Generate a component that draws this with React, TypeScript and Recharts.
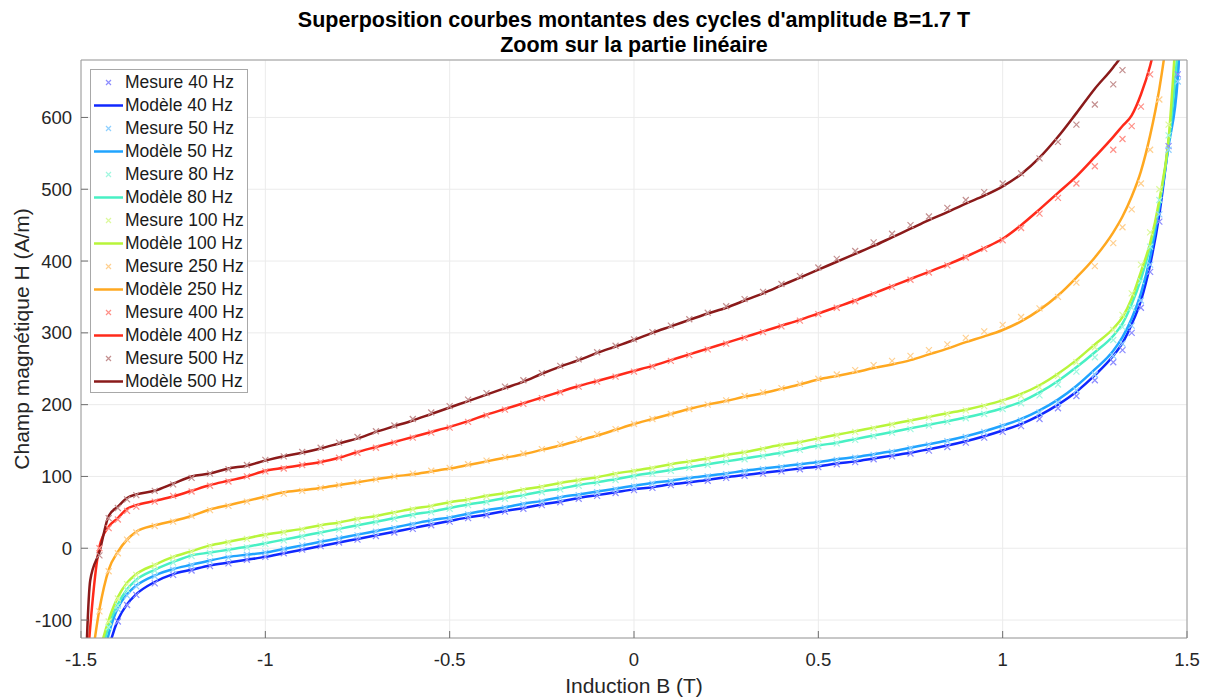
import React from 'react'
import { ComposedChart, Line, XAxis, YAxis, CartesianGrid } from 'recharts'

const FONT = '"Liberation Sans", Arial, Helvetica, sans-serif'

// Induction B (T) — shared abscissa of every curve
const B_VALUES = [
  -1.5, -1.475, -1.45, -1.425, -1.4, -1.375, -1.35,
  -1.3, -1.25, -1.2, -1.15, -1.1, -1.05, -1, -0.95, -0.9, -0.85, -0.8, -0.75,
  -0.7, -0.65, -0.6, -0.55, -0.5, -0.45, -0.4, -0.35, -0.3, -0.25, -0.2,
  -0.15, -0.1, -0.05, 0, 0.05, 0.1, 0.15, 0.2, 0.25, 0.3,
  0.35, 0.4, 0.45, 0.5, 0.55, 0.6, 0.65, 0.7, 0.75, 0.8,
  0.85, 0.9, 0.95, 1, 1.05, 1.1, 1.15, 1.2, 1.25, 1.3,
  1.325, 1.35, 1.375, 1.4, 1.425, 1.45, 1.475, 1.5,
]

// Champ H (A/m) — modèles
const MODELE_40 = [
  -320, -260, -200, -140, -100, -78, -64,
  -47, -36, -30, -24, -20, -16, -12, -7, -2, 3, 8, 13,
  18, 23, 28, 33, 38, 43, 47, 52, 56, 61, 65,
  70, 74, 78, 82, 85, 89, 92, 95, 99, 102,
  105, 108, 111, 114, 118, 121, 125, 129, 133, 138,
  143, 149, 156, 164, 173, 185, 200, 218, 241, 268,
  286, 312, 345, 395, 465, 565, 665, 900,
]
const MODELE_50 = [
  -300, -240, -180, -120, -83, -64, -52,
  -38, -29, -23, -17, -12, -9, -6, -1, 4, 9, 14, 19,
  24, 29, 34, 39, 43, 48, 53, 57, 62, 66, 71,
  75, 79, 83, 87, 91, 94, 98, 101, 104, 108,
  111, 114, 117, 120, 124, 127, 131, 135, 140, 145,
  150, 156, 163, 171, 180, 192, 207, 226, 249, 275,
  294, 320, 355, 405, 475, 560, 655, 950,
]
const MODELE_80 = [
  -280, -220, -160, -108, -78, -57, -44,
  -30, -19, -10, -6, -2, 2, 7, 12, 17, 22, 27, 32,
  37, 42, 47, 51, 56, 61, 65, 70, 74, 79, 83,
  88, 92, 96, 101, 105, 109, 113, 117, 121, 125,
  129, 133, 138, 143, 147, 152, 157, 162, 167, 172,
  177, 182, 188, 195, 204, 217, 233, 252, 273, 296,
  313, 340, 375, 420, 480, 565, 700, 1000,
]
const MODELE_100 = [
  -260, -200, -145, -100, -68, -48, -36,
  -23, -12, -4, 4, 9, 14, 19, 23, 27, 32, 36, 41,
  45, 50, 55, 59, 64, 68, 73, 77, 82, 86, 91,
  95, 99, 104, 108, 112, 117, 121, 125, 130, 134,
  139, 144, 148, 153, 158, 163, 168, 173, 178, 183,
  188, 193, 199, 206, 215, 227, 243, 262, 284, 306,
  322, 348, 385, 425, 485, 570, 760, 1000,
]
const MODELE_250 = [
  -250, -170, -85, -30, -5, 12, 23,
  32, 38, 45, 54, 60, 66, 72, 78, 81, 84, 88, 92,
  96, 100, 103, 107, 111, 116, 121, 126, 131, 137, 143,
  150, 157, 165, 173, 180, 187, 194, 200, 205, 211,
  216, 222, 228, 235, 240, 245, 251, 256, 262, 270,
  278, 287, 295, 304, 316, 332, 352, 377, 405, 440,
  462, 490, 525, 575, 640, 730, 850, 1000,
]
const MODELE_400 = [
  -300, -110, 2, 30, 42, 55, 60,
  66, 72, 80, 88, 94, 100, 108, 112, 116, 120, 126, 134,
  141, 148, 155, 162, 169, 177, 186, 194, 202, 210, 218,
  226, 233, 240, 247, 254, 262, 270, 278, 286, 294,
  302, 310, 318, 327, 336, 345, 355, 365, 375, 385,
  395, 406, 418, 431, 450, 472, 495, 518, 545, 573,
  588, 603, 632, 672, 730, 800, 900, 1000,
]
const MODELE_500 = [
  -400, -45, -5, 45, 58, 70, 75,
  80, 90, 100, 104, 111, 115, 122, 128, 133, 139, 146, 153,
  162, 170, 178, 187, 196, 205, 214, 223, 232, 243, 253,
  262, 272, 281, 290, 300, 309, 318, 327, 335, 345,
  355, 366, 377, 388, 399, 410, 421, 433, 445, 457,
  468, 480, 491, 504, 521, 544, 573, 606, 640, 670,
  688, 720, 760, 800, 850, 900, 950, 1000,
]

// Champ H (A/m) — mesures (null = hors du cadre)
const MESURE_40 = [
  null, null, null, null, -102, -79, -65,
  -49, -37, -31, -25, -21, -16, -12, -7, -2, 3, 8, 12,
  17, 22, 27, 32, 37, 42, 46, 51, 55, 60, 64,
  69, 73, 77, 81, 84, 88, 91, 94, 98, 101,
  104, 107, 110, 113, 117, 120, 124, 128, 132, 136,
  141, 147, 154, 162, 170, 180, 195, 212, 234, 259,
  276, 300, 335, 385, 455, 560, 660, null,
]
const MESURE_50 = [
  null, null, null, null, -85, -66, -53,
  -39, -30, -24, -18, -13, -9, -6, -1, 4, 9, 14, 18,
  23, 28, 33, 38, 42, 47, 52, 56, 61, 65, 70,
  74, 78, 82, 86, 90, 93, 97, 100, 103, 107,
  110, 113, 116, 119, 123, 126, 130, 134, 139, 144,
  149, 155, 162, 170, 178, 189, 203, 220, 242, 268,
  285, 310, 345, 395, 465, 555, 650, null,
]
const MESURE_80 = [
  null, null, null, -110, -80, -58, -45,
  -31, -20, -11, -7, -3, 1, 6, 11, 16, 21, 26, 31,
  36, 41, 46, 50, 55, 60, 64, 69, 73, 78, 82,
  87, 91, 95, 100, 104, 108, 112, 116, 120, 124,
  128, 132, 137, 142, 146, 151, 156, 161, 166, 171,
  176, 181, 187, 194, 202, 213, 228, 246, 266, 290,
  308, 335, 372, 420, 485, 575, null, null,
]
const MESURE_100 = [
  null, null, null, -102, -70, -50, -37,
  -24, -13, -5, 3, 8, 13, 18, 22, 26, 31, 35, 40,
  44, 49, 54, 58, 63, 67, 72, 76, 81, 85, 90,
  94, 98, 103, 107, 111, 116, 120, 124, 129, 133,
  138, 143, 147, 152, 157, 162, 167, 172, 177, 182,
  187, 192, 198, 204, 212, 224, 240, 259, 280, 304,
  325, 355, 395, 440, 500, 590, null, null,
]
const MESURE_250 = [
  null, null, -88, -32, -7, 12, 22,
  31, 37, 45, 53, 59, 65, 71, 76, 80, 84, 88, 92,
  96, 100, 104, 108, 112, 117, 122, 127, 132, 138, 145,
  152, 159, 166, 173, 180, 187, 194, 200, 206, 212,
  217, 223, 229, 236, 242, 248, 255, 261, 268, 276,
  284, 293, 302, 311, 322, 334, 350, 370, 393, 425,
  447, 472, 508, 555, 625, null, null, null,
]
const MESURE_400 = [
  null, null, 0, 28, 40, 52, 58,
  65, 73, 79, 87, 93, 100, 107, 111, 116, 120, 126, 133,
  140, 147, 154, 161, 168, 176, 185, 193, 201, 209, 217,
  225, 232, 239, 246, 253, 261, 269, 277, 285, 293,
  301, 309, 317, 326, 335, 344, 354, 364, 374, 384,
  394, 405, 417, 429, 446, 466, 488, 508, 532, 555,
  570, 588, 615, 660, null, null, null, null,
]
const MESURE_500 = [
  null, null, -10, 42, 56, 68, 74,
  80, 89, 98, 104, 110, 116, 123, 128, 134, 140, 147, 155,
  163, 171, 180, 189, 198, 207, 216, 225, 234, 244, 254,
  263, 273, 282, 291, 301, 310, 319, 328, 337, 347,
  357, 368, 379, 391, 403, 414, 426, 438, 450, 462,
  474, 485, 496, 508, 522, 543, 566, 590, 618, 646,
  666, null, null, null, null, null, null, null,
]

const X_TICKS = [-1.5, -1, -0.5, 0, 0.5, 1, 1.5]
const Y_TICKS = [-100, 0, 100, 200, 300, 400, 500, 600]

const SERIES = [
  { key: '40', label: '40 Hz', color: '#1028ff', mark: '#8c8cff', modele: MODELE_40, mesure: MESURE_40 },
  { key: '50', label: '50 Hz', color: '#20a4ff', mark: '#8fd0ff', modele: MODELE_50, mesure: MESURE_50 },
  { key: '80', label: '80 Hz', color: '#48f0c4', mark: '#a2f7e0', modele: MODELE_80, mesure: MESURE_80 },
  { key: '100', label: '100 Hz', color: '#b8f53a', mark: '#dcf99c', modele: MODELE_100, mesure: MESURE_100 },
  { key: '250', label: '250 Hz', color: '#ffa820', mark: '#ffd090', modele: MODELE_250, mesure: MESURE_250 },
  { key: '400', label: '400 Hz', color: '#ff2a1a', mark: '#ff9088', modele: MODELE_400, mesure: MESURE_400 },
  { key: '500', label: '500 Hz', color: '#8a1a1a', mark: '#c49090', modele: MODELE_500, mesure: MESURE_500 },
]

const rows = B_VALUES.map((b, i) => {
  const row: Record<string, number | null> = { b }
  SERIES.forEach((s) => {
    row['m' + s.key] = s.modele[i]
    row['s' + s.key] = s.mesure[i]
  })
  return row
})

function crossDot(props: any, color: string) {
  const { cx, cy, value, index } = props
  if (value == null || cx == null || cy == null || isNaN(cy)) return <g key={'e' + index} />
  const s = 3
  return (
    <path
      key={'x' + index}
      d={`M${cx - s},${cy - s}L${cx + s},${cy + s}M${cx - s},${cy + s}L${cx + s},${cy - s}`}
      stroke={color}
      strokeWidth={1.2}
      fill="none"
    />
  )
}

const tickStyle = { fontSize: 18.5, fill: '#262626', fontFamily: FONT }

function LegendBox() {
  const entries: { text: string; color: string; isLine: boolean }[] = []
  SERIES.forEach((s) => {
    entries.push({ text: 'Mesure ' + s.label, color: s.mark, isLine: false })
    entries.push({ text: 'Modèle ' + s.label, color: s.color, isLine: true })
  })
  return (
    <div
      style={{
        position: 'absolute', left: 90, top: 69, width: 158, height: 324,
        border: '1px solid #a8a8a8', background: '#fff', boxSizing: 'border-box',
        paddingTop: 1,
      }}
    >
      {entries.map((e) => (
        <div key={e.text} style={{ height: 23, display: 'flex', alignItems: 'center' }}>
          <svg width={34} height={23} style={{ flex: 'none' }}>
            {e.isLine ? (
              <line x1={3} x2={32} y1={11.5} y2={11.5} stroke={e.color} strokeWidth={2.5} />
            ) : (
              <path d="M15,9L20,14M15,14L20,9" stroke={e.color} strokeWidth={1.2} fill="none" />
            )}
          </svg>
          <span style={{ fontSize: 17.5, color: '#1a1a1a', fontFamily: FONT, whiteSpace: 'nowrap' }}>{e.text}</span>
        </div>
      ))}
    </div>
  )
}

export default function App() {
  return (
    <div style={{ position: 'absolute', left: 0, top: 0, width: 1207, height: 700, background: '#fff', fontFamily: FONT }}>
      <ComposedChart width={1207} height={700} data={rows} margin={{ top: 59, right: 19, bottom: 32, left: 21 }}>
        <CartesianGrid stroke="#ebebeb" strokeDasharray="" />
        <XAxis
          type="number" dataKey="b" domain={[-1.5, 1.5]} ticks={X_TICKS} allowDataOverflow
          height={30} tickSize={-7} tickMargin={22} tick={tickStyle}
          stroke="#9a9a9a" tickLine={{ stroke: '#6e6e6e' }}
        />
        <XAxis
          xAxisId="top" orientation="top" type="number" domain={[-1.5, 1.5]} ticks={X_TICKS}
          allowDataOverflow height={1} tickSize={-7} tick={false}
          stroke="#9a9a9a" tickLine={{ stroke: '#6e6e6e' }}
        />
        <YAxis
          type="number" domain={[-125, 680]} ticks={Y_TICKS} allowDataOverflow
          width={60} tickSize={-7} tickMargin={16} tick={tickStyle}
          stroke="#9a9a9a" tickLine={{ stroke: '#6e6e6e' }}
        />
        <YAxis
          yAxisId="right" orientation="right" type="number" domain={[-125, 680]} ticks={Y_TICKS}
          allowDataOverflow width={1} tickSize={-7} tick={false}
          stroke="#9a9a9a" tickLine={{ stroke: '#6e6e6e' }}
        />
        {SERIES.flatMap((s) => [
          <Line
            key={'s' + s.key} dataKey={'s' + s.key} type="monotone" stroke="none"
            dot={(p: any) => crossDot(p, s.mark)} activeDot={false}
            isAnimationActive={false} legendType="none"
          />,
          <Line
            key={'m' + s.key} dataKey={'m' + s.key} type="monotone" stroke={s.color}
            strokeWidth={2.5} dot={false} activeDot={false}
            isAnimationActive={false} legendType="none"
          />,
        ])}
      </ComposedChart>

      <div
        style={{
          position: 'absolute', left: 84, top: 8, width: 1100, textAlign: 'center',
          fontWeight: 'bold', fontSize: 21.5, lineHeight: '25px', color: '#000',
        }}
      >
        <div>Superposition courbes montantes des cycles d'amplitude B=1.7 T</div>
        <div>Zoom sur la partie linéaire</div>
      </div>

      <div
        style={{
          position: 'absolute', left: 22 - 200, top: 339 - 12, width: 400, height: 24,
          lineHeight: '24px', textAlign: 'center', fontSize: 21, color: '#262626',
          transform: 'rotate(-90deg)',
        }}
      >
        Champ magnétique H (A/m)
      </div>

      <div
        style={{
          position: 'absolute', left: 434, top: 674, width: 400, height: 24,
          lineHeight: '24px', textAlign: 'center', fontSize: 21, color: '#262626',
        }}
      >
        Induction B (T)
      </div>

      <LegendBox />
    </div>
  )
}
